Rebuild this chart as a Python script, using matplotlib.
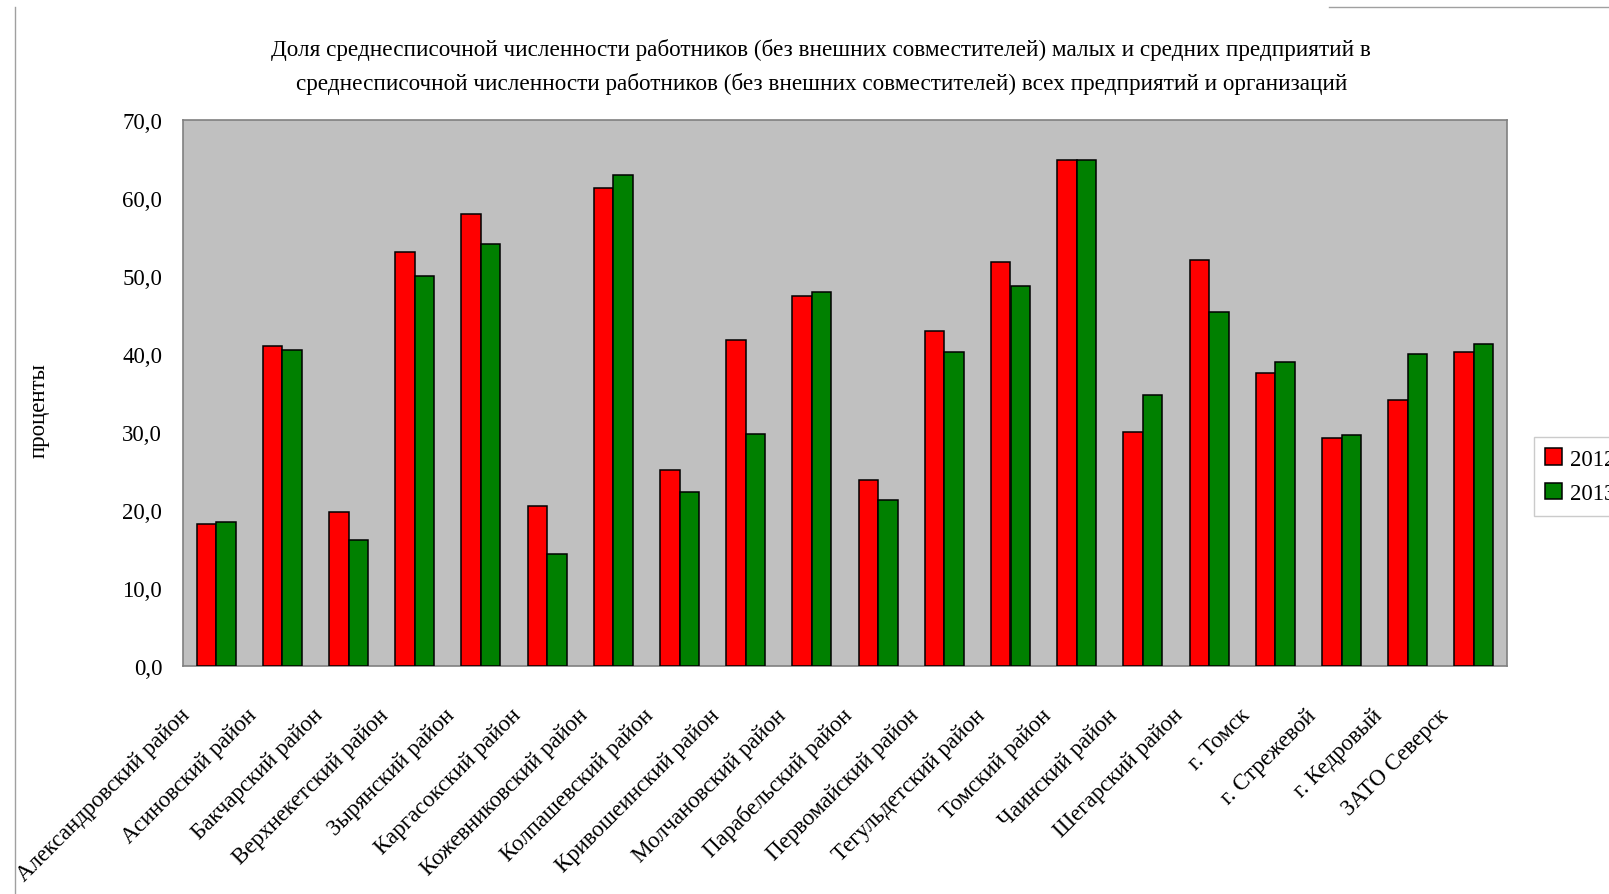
import numpy as np
import matplotlib
matplotlib.use("Agg")
import matplotlib.pyplot as plt
from matplotlib.patches import Patch
from matplotlib.lines import Line2D
from matplotlib.transforms import ScaledTranslation

# ─── Data ─────────────────────────────────────────────────────────────────────

districts = [
    "Александровский район", "Асиновский район", "Бакчарский район",
    "Верхнекетский район", "Зырянский район", "Каргасокский район",
    "Кожевниковский район", "Колпашевский район", "Кривошеинский район",
    "Молчановский район", "Парабельский район", "Первомайский район",
    "Тегульдетский район", "Томский район", "Чаинский район",
    "Шегарский район", "г. Томск", "г. Стрежевой", "г. Кедровый",
    "ЗАТО Северск",
]
share_2012 = [18.2, 41.0, 19.7, 53.1, 58.0, 20.5, 61.3, 25.1, 41.8, 47.4,
              23.9, 42.9, 51.8, 64.9, 30.0, 52.1, 37.6, 29.2, 34.1, 40.3]
share_2013 = [18.4, 40.5, 16.1, 50.0, 54.1, 14.3, 62.9, 22.3, 29.7, 48.0,
              21.3, 40.3, 48.7, 64.9, 34.8, 45.4, 39.0, 29.6, 40.0, 41.3]
years = ["2012", "2013"]
y_ticks = [0, 10, 20, 30, 40, 50, 60, 70]

title_1 = ("Доля среднесписочной численности работников (без внешних совместителей) "
           "малых и средних предприятий в")
title_2 = ("среднесписочной численности работников (без внешних совместителей) "
           "всех предприятий и организаций")

# ─── Style ────────────────────────────────────────────────────────────────────

W, H = 1609, 895
RED = "#FF0000"
GREEN = "#008000"
PLOT_BG = "#C0C0C0"
FRAME = "#808080"

plt.rcParams["font.family"] = ["Liberation Serif", "DejaVu Serif"]

fig = plt.figure(figsize=(W / 100, H / 100), dpi=100, facecolor="white")
# plot area in pixels: left 183, right 1507, top 121, bottom 667
ax = fig.add_axes([183 / W, 1 - 667 / H, (1507 - 183) / W, (667 - 121) / H])
ax.set_facecolor(PLOT_BG)

x = np.arange(len(districts))
bw = 0.295
ax.bar(x - bw / 2, share_2012, bw, color=RED, edgecolor="black", linewidth=1.1, zorder=3)
ax.bar(x + bw / 2, share_2013, bw, color=GREEN, edgecolor="black", linewidth=1.1, zorder=3)

ax.set_xlim(-0.5, len(districts) - 0.5)
ax.set_ylim(0, 70)
ax.set_yticks(y_ticks)
ax.set_yticklabels([f"{v:.1f}".replace(".", ",") for v in y_ticks], fontsize=16.5)
ax.tick_params(axis="y", length=0, pad=15)

ax.set_xticks(x)
ax.set_xticklabels(districts, fontsize=16.5, rotation=45, ha="right", va="center",
                   rotation_mode="anchor")
ax.tick_params(axis="x", length=0, pad=33)
shift = ScaledTranslation(-29 / 100, 0, fig.dpi_scale_trans)
for lab in ax.get_xticklabels():
    lab.set_transform(lab.get_transform() + shift)

for s in ax.spines.values():
    s.set_color(FRAME)
    s.set_linewidth(1.2)

# ─── Texts ────────────────────────────────────────────────────────────────────

fig.text(821 / W, 1 - 50 / H, title_1, ha="center", va="center", fontsize=16.7)
fig.text(822 / W, 1 - 84 / H, title_2, ha="center", va="center", fontsize=16.7)
fig.text(39 / W, 1 - 411 / H, "проценты", rotation=90, ha="center", va="center",
         fontsize=16.5)

# legend (partly cut off by the right edge, as in the source)
handles = [Patch(facecolor=RED, edgecolor="black", linewidth=1.1),
           Patch(facecolor=GREEN, edgecolor="black", linewidth=1.1)]
leg = fig.legend(handles, years, loc="upper left",
                 bbox_to_anchor=(1534 / W, 1 - 438 / H), fontsize=16.5,
                 frameon=True, fancybox=False, handlelength=0.7, handleheight=0.7,
                 handletextpad=0.35, borderpad=0.5, labelspacing=0.6,
                 borderaxespad=0)
leg.get_frame().set_edgecolor("#BFBFBF")
leg.get_frame().set_linewidth(1.0)

# chart-area border fragments
fig.add_artist(Line2D([15 / W, 15 / W], [0, 1 - 8 / H], color="#A0A0A0", lw=1.0))
fig.add_artist(Line2D([1329 / W, 1], [1 - 8 / H, 1 - 8 / H], color="#A0A0A0", lw=1.0))

fig.savefig("out.png", dpi=100)
